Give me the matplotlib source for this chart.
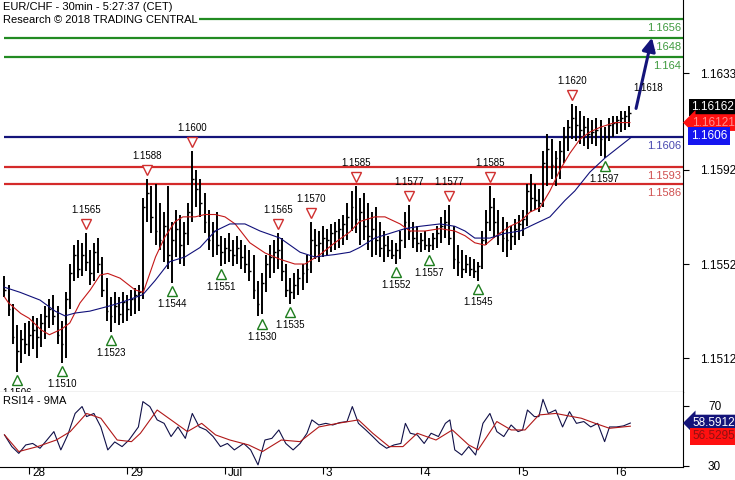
import numpy as np
import matplotlib
matplotlib.use("Agg")
import matplotlib.pyplot as plt
from matplotlib.transforms import ScaledTranslation

plt.rcParams['font.family'] = ['Liberation Sans', 'DejaVu Sans']

# ---- data: hourly bars, x = hours since 28 Jun 00:00 (weekend skipped) ----
hours = np.arange(-6, 148)
highs = [1.1547, 1.1543, 1.1535, 1.1526, 1.1524, 1.1527,
         1.1528, 1.1530, 1.1529, 1.1531, 1.1534, 1.1537, 1.1539, 1.1534, 1.1528, 1.1540,
         1.1552, 1.1560, 1.1562, 1.1561, 1.1565, 1.1558, 1.1561, 1.1563, 1.1555, 1.1546,
         1.1538, 1.1540, 1.1538, 1.1540, 1.1539, 1.1541, 1.1542, 1.1543, 1.1580, 1.1588,
         1.1585, 1.1586, 1.1578, 1.1574, 1.1585, 1.1570, 1.1575, 1.1573, 1.1570, 1.1578,
         1.1600, 1.1592, 1.1588, 1.1582, 1.1575, 1.1570, 1.1574, 1.1564, 1.1563, 1.1565,
         1.1562, 1.1564, 1.1562, 1.1560, 1.1558, 1.1556, 1.1545, 1.1548, 1.1556, 1.1560,
         1.1562, 1.1565, 1.1563, 1.1552, 1.1546, 1.1548, 1.1550, 1.1552, 1.1556, 1.1570,
         1.1567, 1.1566, 1.1568, 1.1567, 1.1569, 1.1570, 1.1571, 1.1573, 1.1578, 1.1583,
         1.1585, 1.1580, 1.1582, 1.1578, 1.1574, 1.1576, 1.1570, 1.1566, 1.1564, 1.1562,
         1.1561, 1.1566, 1.1574, 1.1577, 1.1570, 1.1568, 1.1565, 1.1566, 1.1563, 1.1565,
         1.1568, 1.1572, 1.1575, 1.1577, 1.1568, 1.1560, 1.1558, 1.1556, 1.1555, 1.1554,
         1.1553, 1.1566, 1.1575, 1.1585, 1.1580, 1.1575, 1.1572, 1.1570, 1.1568, 1.1571,
         1.1573, 1.1575, 1.1586, 1.1590, 1.1586, 1.1584, 1.1600, 1.1607, 1.1605, 1.1600,
         1.1604, 1.1610, 1.1613, 1.1620, 1.1619, 1.1617, 1.1615, 1.1614, 1.1613, 1.1614,
         1.1613, 1.1610, 1.1614, 1.1615, 1.1615, 1.1617, 1.1617, 1.1619]
lows = [1.1538, 1.1530, 1.1518, 1.1506, 1.1510, 1.1514,
        1.1513, 1.1516, 1.1512, 1.1517, 1.1520, 1.1525, 1.1526, 1.1518, 1.1510, 1.1512,
        1.1533, 1.1545, 1.1546, 1.1547, 1.1549, 1.1543, 1.1545, 1.1548, 1.1538, 1.1528,
        1.1523, 1.1527, 1.1526, 1.1527, 1.1528, 1.1530, 1.1531, 1.1532, 1.1537, 1.1570,
        1.1565, 1.1560, 1.1558, 1.1553, 1.1550, 1.1544, 1.1555, 1.1552, 1.1551, 1.1560,
        1.1570, 1.1576, 1.1572, 1.1565, 1.1558, 1.1555, 1.1556, 1.1551, 1.1552, 1.1553,
        1.1551, 1.1552, 1.1550, 1.1548, 1.1545, 1.1537, 1.1530, 1.1531, 1.1540, 1.1546,
        1.1548, 1.1550, 1.1545, 1.1538, 1.1535, 1.1537, 1.1539, 1.1541, 1.1544, 1.1548,
        1.1554, 1.1553, 1.1555, 1.1556, 1.1557, 1.1558, 1.1559, 1.1560, 1.1562, 1.1566,
        1.1565, 1.1560, 1.1562, 1.1558, 1.1555, 1.1556, 1.1555, 1.1553, 1.1555, 1.1554,
        1.1552, 1.1554, 1.1559, 1.1562, 1.1559, 1.1557, 1.1557, 1.1558, 1.1557, 1.1558,
        1.1559, 1.1561, 1.1563, 1.1560, 1.1550, 1.1547, 1.1546, 1.1548, 1.1547, 1.1546,
        1.1545, 1.1550, 1.1560, 1.1566, 1.1563, 1.1560, 1.1557, 1.1555, 1.1558, 1.1560,
        1.1562, 1.1564, 1.1568, 1.1574, 1.1575, 1.1574, 1.1576, 1.1585, 1.1588, 1.1585,
        1.1588, 1.1595, 1.1600, 1.1605, 1.1604, 1.1603, 1.1602, 1.1601, 1.1603, 1.1602,
        1.1598, 1.1597, 1.1604, 1.1606, 1.1607, 1.1608, 1.1609, 1.1610]
closes = [1.1541, 1.1533, 1.1521, 1.1515, 1.1520, 1.1518,
          1.1522, 1.1524, 1.1521, 1.1527, 1.1530, 1.1533, 1.1530, 1.1522, 1.1518, 1.1537,
          1.1548, 1.1556, 1.1550, 1.1556, 1.1553, 1.1548, 1.1557, 1.1552, 1.1541, 1.1532,
          1.1530, 1.1534, 1.1531, 1.1536, 1.1533, 1.1537, 1.1539, 1.1540, 1.1576, 1.1582,
          1.1572, 1.1566, 1.1562, 1.1568, 1.1556, 1.1562, 1.1567, 1.1560, 1.1565, 1.1574,
          1.1588, 1.1584, 1.1578, 1.1570, 1.1562, 1.1566, 1.1560, 1.1557, 1.1559, 1.1558,
          1.1556, 1.1559, 1.1555, 1.1552, 1.1549, 1.1541, 1.1535, 1.1544, 1.1552, 1.1555,
          1.1557, 1.1558, 1.1549, 1.1541, 1.1540, 1.1543, 1.1546, 1.1548, 1.1550, 1.1562,
          1.1560, 1.1561, 1.1563, 1.1562, 1.1565, 1.1566, 1.1567, 1.1569, 1.1572, 1.1576,
          1.1571, 1.1574, 1.1568, 1.1564, 1.1567, 1.1562, 1.1559, 1.1560, 1.1558, 1.1556,
          1.1558, 1.1562, 1.1570, 1.1566, 1.1563, 1.1561, 1.1562, 1.1560, 1.1560, 1.1563,
          1.1565, 1.1568, 1.1570, 1.1563, 1.1554, 1.1553, 1.1550, 1.1552, 1.1550, 1.1549,
          1.1551, 1.1562, 1.1570, 1.1576, 1.1570, 1.1565, 1.1563, 1.1562, 1.1564, 1.1567,
          1.1569, 1.1571, 1.1583, 1.1580, 1.1579, 1.1578, 1.1595, 1.1601, 1.1594, 1.1597,
          1.1600, 1.1606, 1.1610, 1.1614, 1.1611, 1.1609, 1.1610, 1.1607, 1.1608, 1.1609,
          1.1605, 1.1606, 1.1611, 1.1612, 1.1613, 1.1614, 1.1615, 1.1616]

red_ma_h = [-6, -5, -2, 0, 3, 5, 8, 10, 12.5, 15, 17.4, 19.3, 22.3, 26, 28, 31, 33.3,
            35.8, 37.7, 40.7, 43.1, 45.6, 48, 50.5, 54.1, 57.8, 61.5, 65.1, 67.6, 71.3,
            74.9, 78.6, 81, 84.7, 87.2, 90.9, 93.3, 97, 100.7, 104.3, 106.8, 109.2,
            111.7, 114.1, 117.8, 120.3, 122.7, 125.2, 127.6, 130.1, 132.5, 135, 137.4,
            139.9, 143.5, 147.2]
red_ma = [1.1538, 1.15355, 1.1531, 1.1529, 1.1524, 1.1522, 1.15244, 1.1527, 1.15355,
          1.1541, 1.15473, 1.1548, 1.1546, 1.1541, 1.1540, 1.1555, 1.15635, 1.1570,
          1.1572, 1.1572, 1.1573, 1.1573, 1.1572, 1.1569, 1.1561, 1.15567, 1.1554,
          1.1552, 1.1552, 1.1556, 1.1561, 1.15656, 1.1570, 1.1572, 1.1572, 1.1569,
          1.1566, 1.1566, 1.1567, 1.1566, 1.1564, 1.1561, 1.1560, 1.15635, 1.1568,
          1.1570, 1.1574, 1.1576, 1.1583, 1.1592, 1.1599, 1.1605, 1.1608, 1.1610,
          1.1612, 1.1612]
blue_ma_h = [-6.1, -2.2, 2.7, 6.4, 8.8, 11.3, 14.9, 19.3, 22.3, 24.7, 27.9, 30.9, 34.5,
             38.2, 41.9, 45.6, 49.2, 52.9, 56.6, 61.5, 66.4, 70, 74.9, 78.6, 81, 84.7,
             88.4, 92.1, 95.8, 100.7, 104.3, 106.8, 109.2, 112.9, 116.6, 120.3, 123.9,
             127.6, 131.3, 133.7, 137.4, 141.1, 147.7]
blue_ma = [1.15422, 1.1540, 1.15367, 1.1532, 1.1530, 1.15312, 1.1532, 1.1534, 1.15355,
           1.1537, 1.1539, 1.1545, 1.1553, 1.1555, 1.1559, 1.1566, 1.1569, 1.1569,
           1.1566, 1.1563, 1.1557, 1.1555, 1.1556, 1.1557, 1.1559, 1.1563, 1.1565,
           1.1567, 1.1568, 1.1569, 1.1568, 1.1566, 1.1563, 1.1563, 1.1565, 1.1566,
           1.1569, 1.1572, 1.1579, 1.1583, 1.1591, 1.1597, 1.1606]

resist_levels = [1.1656, 1.1648, 1.164]
resist_labels = ["1.1656", "1.1648", "1.164"]
pivot_level = 1.1606
support_levels = [1.1593, 1.1586]

peak_h = [14, 29, 40, 61, 69, 80, 93, 103, 113, 133]
peak_p = [1.1565, 1.1588, 1.1600, 1.1565, 1.1570, 1.1585, 1.1577, 1.1577, 1.1585, 1.1620]
trough_h = [-3, 8, 20, 35, 47, 57, 64, 90, 98, 110, 141]
trough_p = [1.1506, 1.1510, 1.1523, 1.1544, 1.1551, 1.1530, 1.1535, 1.1552, 1.1557,
            1.1545, 1.1597]

target_from = (148.7, 1.1618)
target_to = (152.6, 1.1648)

rsi_h = [-6, -4.2, -2.5, -0.8, 0.9, 2.7, 4.4, 6.1, 7.8, 9.5, 11.3, 13, 14.1, 15.9, 17.6,
         19.3, 21, 22.8, 24.5, 26.8, 27.9, 29.6, 31.4, 33.1, 34.8, 36.5, 38.3, 40, 41.7,
         43.4, 45.1, 46.9, 48.6, 50.3, 52.6, 54.3, 56.1, 57.8, 59.5, 61.2, 62.9, 64.7,
         66.4, 68.1, 69.3, 71, 72.7, 74.4, 76.1, 77.9, 79.2, 80.7, 82.5, 84.2, 85.9,
         87.6, 89.4, 91.1, 92.2, 93.4, 95.1, 96.8, 98.5, 100.3, 102, 103.1, 104.3, 106,
         107.7, 109.4, 111.2, 112.9, 114.6, 116.3, 118.1, 119.8, 120.9, 122.1, 123.8,
         124.9, 125.9, 127.2, 129, 130.7, 132.4, 134.1, 135.9, 137.6, 139.3, 141, 142.2,
         143.9, 145.6, 147.3]
rsi = [50.7, 42.9, 38.4, 44, 45, 41.8, 47.3, 52.9, 40.7, 50.7, 65, 69.6, 62.9, 65, 56,
       40.7, 46, 42.9, 47.3, 56, 72.9, 69.6, 60.7, 58.4, 49.6, 56, 48.4, 65, 56, 54,
       49.6, 42.9, 45, 40.7, 45, 40.7, 30.7, 47.3, 48.4, 54, 45, 40.7, 45, 51.8, 60.7,
       57.3, 58.4, 57.3, 58.9, 59.6, 69.6, 58.4, 54, 49.6, 45, 41.8, 44, 45, 58.4, 51.8,
       50.7, 45, 51.8, 49.6, 58.4, 60.7, 40.7, 37.3, 42.9, 37.3, 58.4, 65, 52.9, 49.6,
       57.3, 52.9, 54, 67.3, 62.9, 62.9, 74.4, 65, 67.3, 56, 66.2, 58.4, 59.6, 56, 58.4,
       46.2, 56, 56, 56.7, 58.6]
rsi_ma_h = [-6, -2.5, 2.1, 6.7, 10.1, 14.1, 17.6, 21.6, 25.1, 27.3, 31.4, 34.8, 38.8,
            42.3, 45.7, 49.2, 53.8, 57.2, 61.8, 66.4, 71, 75.6, 80.7, 84.2, 88.2, 91.6,
            95.1, 99.7, 103.7, 107.7, 110, 114.6, 118.1, 121.5, 124.9, 129, 135.3, 138.7,
            142.2, 147.3]
rsi_ma = [50.7, 39.6, 42.9, 47.3, 52.9, 65, 61.8, 47.3, 46.2, 51.8, 67.3, 60.7, 52.9,
          58.4, 50.7, 47.3, 44, 39.6, 47.3, 46.2, 56, 58.4, 60.7, 51.8, 42.9, 42.9, 51.8,
          47.3, 54, 44, 40.7, 59.6, 54, 54, 64, 65, 61.8, 58.4, 55.1, 56.5]

day_ticks = [0, 24, 48, 72, 96, 120, 144]
day_labels = ["28", "29", "Jul", "3", "4", "5", "6"]
price_ticks = [1.1512, 1.1552, 1.1592, 1.1633]

GREEN, RED, NAVY = "#228b22", "#d42a2a", "#14147a"

fig = plt.figure(figsize=(7.35, 4.8), dpi=100)
W, H = 735, 480
ax = fig.add_axes([0, 88 / H, 683 / W, 392 / H])
ar = fig.add_axes([0, 13 / H, 683 / W, 75 / H])
xlim = (-7.1, 160.2)

# price bars
ax.vlines(hours, lows, highs, color="black", lw=1.4, zorder=3)
ax.hlines(closes, hours, hours + 0.45, color="black", lw=1.0, zorder=3)
ax.plot(red_ma_h, red_ma, color="#c41818", lw=0.8, zorder=4)
ax.plot(blue_ma_h, blue_ma, color="#10107a", lw=0.8, zorder=4)

# levels
for lv, lb in zip(resist_levels, resist_labels):
    ax.hlines(lv, -6.1, xlim[1], color=GREEN, lw=1.6, zorder=2)
    ax.annotate(lb, (1, lv), xycoords=("axes fraction", "data"), xytext=(-2, -9),
                textcoords="offset pixels", ha="right", va="center", fontsize=8,
                color="#3f9a3f")
ax.hlines(pivot_level, -6.1, xlim[1], color=NAVY, lw=1.6, zorder=2)
ax.annotate("1.1606", (1, pivot_level), xycoords=("axes fraction", "data"),
            xytext=(-2, -9), textcoords="offset pixels", ha="right", va="center",
            fontsize=8, color="#4848b0")
for lv in support_levels:
    ax.hlines(lv, -6.1, xlim[1], color=RED, lw=1.6, zorder=2)
    ax.annotate(f"{lv:.4f}", (1, lv), xycoords=("axes fraction", "data"),
                xytext=(-2, -9), textcoords="offset pixels", ha="right", va="center",
                fontsize=8, color="#d05050")

# turning-point markers
up = ax.transData + ScaledTranslation(0, 9 / 100, fig.dpi_scale_trans)
dn = ax.transData + ScaledTranslation(0, -8 / 100, fig.dpi_scale_trans)
ax.plot(peak_h, peak_p, "v", ms=6.5, mfc="white", mec="#d03030", mew=1.0,
        transform=up, zorder=5)
ax.plot(trough_h, trough_p, "^", ms=6.5, mfc="white", mec="#1e7d1e", mew=1.0,
        transform=dn, zorder=5)
for h, p in zip(peak_h, peak_p):
    ax.annotate(f"{p:.4f}", (h, p), xytext=(0, 23), textcoords="offset pixels",
                ha="center", va="center", fontsize=7, zorder=6)
for h, p in zip(trough_h, trough_p):
    ax.annotate(f"{p:.4f}", (h, p), xytext=(0, -21), textcoords="offset pixels",
                ha="center", va="center", fontsize=7, zorder=6, clip_on=True)

# target arrow
ax.annotate("", xy=target_to, xytext=target_from,
            arrowprops=dict(arrowstyle="-|>", color=NAVY, lw=2.2,
                            mutation_scale=20, shrinkA=0, shrinkB=0), zorder=6)
ax.annotate("1.1618", target_from, xytext=(12, 20), textcoords="offset pixels",
            ha="center", va="center", fontsize=7, zorder=7)

ax.set_xlim(*xlim)
ax.set_ylim(1.14977, 1.16640)
ax.yaxis.tick_right()
ax.set_yticks(price_ticks)
ax.set_yticklabels([f"{t:.4f}" for t in price_ticks])
ax.tick_params(axis="y", direction="out", length=4, pad=8, labelsize=8.5)
ax.set_xticks([])
for s in ("top", "left"):
    ax.spines[s].set_visible(False)

ax.text(3 / 683, 1 - 7 / 392, "EUR/CHF - 30min - 5:27:37 (CET)", transform=ax.transAxes,
        fontsize=8, va="center", ha="left", zorder=8)
ax.text(3 / 683, 1 - 20 / 392, "Research \u00a9 2018 TRADING CENTRAL", transform=ax.transAxes,
        fontsize=8, va="center", ha="left", zorder=8,
        bbox=dict(facecolor="white", edgecolor="none", pad=1))

# right side value boxes
ax.annotate("1.16162", (1, closes[-1]), xycoords=("axes fraction", "data"),
            xytext=(8, 6), textcoords="offset pixels", ha="left", va="center",
            fontsize=8.5, color="white", annotation_clip=False,
            bbox=dict(boxstyle="square,pad=0.2", facecolor="black", edgecolor="none"))
ax.annotate("1.16121", (1, red_ma[-1]), xycoords=("axes fraction", "data"),
            xytext=(9, 0), textcoords="offset pixels", ha="left", va="center",
            fontsize=8.5, color="#ff9090", annotation_clip=False,
            bbox=dict(boxstyle="larrow,pad=0.2", facecolor="#ff1010", edgecolor="none"))
ax.annotate("1.1606", (1, pivot_level), xycoords=("axes fraction", "data"),
            xytext=(8, 1), textcoords="offset pixels", ha="left", va="center",
            fontsize=8.5, color="white", annotation_clip=False,
            bbox=dict(boxstyle="square,pad=0.25", facecolor="#1515f0", edgecolor="none"))

# RSI panel
ar.plot(rsi_h, rsi, color="#101048", lw=0.8)
ar.plot(rsi_ma_h, rsi_ma, color="#b01818", lw=0.8)
ar.set_xlim(*xlim)
ar.set_ylim(29.3, 79.3)
ar.yaxis.tick_right()
ar.set_yticks([30, 70])
ar.tick_params(axis="y", direction="out", length=4, pad=14, labelsize=8.5)
ar.set_xticks(day_ticks)
ar.set_xticklabels(day_labels, ha="left", va="center")
ar.tick_params(axis="x", direction="out", length=5, pad=0, labelsize=8.5)
shift = ScaledTranslation(3 / 100, 0.5 / 100, fig.dpi_scale_trans)
for lab in ar.get_xticklabels():
    lab.set_transform(lab.get_transform() + shift)
for s in ("top", "left"):
    ar.spines[s].set_visible(False)
ar.text(3 / 683, 1 - 9 / 75, "RSI14 - 9MA", transform=ar.transAxes, fontsize=8,
        va="center", ha="left")
ar.annotate("58.5912", (1, rsi[-1]), xycoords=("axes fraction", "data"),
            xytext=(9, 0), textcoords="offset pixels", ha="left", va="center",
            fontsize=8.5, color="white", annotation_clip=False,
            bbox=dict(boxstyle="larrow,pad=0.2", facecolor="#14147a", edgecolor="none"))
ar.annotate("56.5295", (1, rsi_ma[-1]), xycoords=("axes fraction", "data"),
            xytext=(9, -10), textcoords="offset pixels", ha="left", va="center",
            fontsize=8.5, color="#901010", annotation_clip=False,
            bbox=dict(boxstyle="square,pad=0.2", facecolor="#ff1010", edgecolor="none"))

fig.savefig("out.png", dpi=100)
